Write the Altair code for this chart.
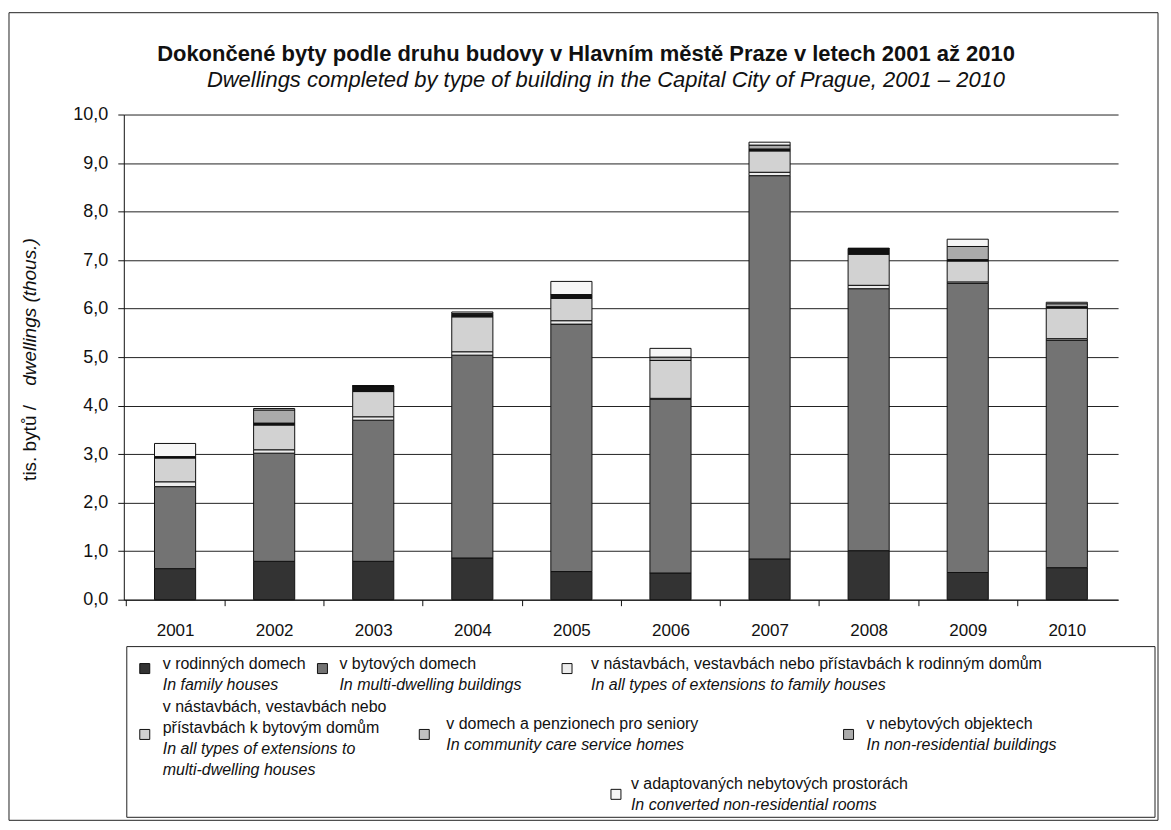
import altair as alt
import pandas as pd

# ---------------- data (thousands of dwellings) ----------------
years = ["2001", "2002", "2003", "2004", "2005", "2006", "2007", "2008", "2009", "2010"]
family = [0.64, 0.79, 0.79, 0.86, 0.58, 0.55, 0.84, 1.01, 0.56, 0.66]
multi = [1.69, 2.23, 2.91, 4.18, 5.10, 3.58, 7.90, 5.40, 5.96, 4.69]
ext_family = [0.10, 0.07, 0.07, 0.07, 0.07, 0.02, 0.07, 0.07, 0.03, 0.03]
ext_multi = [0.49, 0.51, 0.52, 0.72, 0.46, 0.78, 0.44, 0.64, 0.43, 0.63]
care = [0.03, 0.04, 0.12, 0.05, 0.08, 0.00, 0.04, 0.12, 0.03, 0.03]
nonres = [0.00, 0.27, 0.00, 0.02, 0.00, 0.07, 0.08, 0.00, 0.27, 0.06]
converted = [0.27, 0.03, 0.00, 0.03, 0.27, 0.18, 0.06, 0.00, 0.15, 0.03]

series_names = ["family", "multi", "ext_family", "ext_multi", "care", "nonres", "converted"]
series_values = [family, multi, ext_family, ext_multi, care, nonres, converted]

title_cz = "Dokončené byty podle druhu budovy v Hlavním městě Praze v letech 2001 až 2010"
title_en = "Dwellings completed by type of building in the Capital City of Prague, 2001 – 2010"
ytitle_cz = "tis. bytů / "
ytitle_en = "dwellings (thous.)"

legend_cz = [
    ["v rodinných domech"],
    ["v bytových domech"],
    ["v nástavbách, vestavbách nebo přístavbách k rodinným domům"],
    ["v nástavbách, vestavbách nebo", "přístavbách k bytovým domům"],
    ["v domech a penzionech pro seniory"],
    ["v nebytových objektech"],
    ["v adaptovaných nebytových prostorách"],
]
legend_en = [
    ["In family houses"],
    ["In multi-dwelling buildings"],
    ["In all types of extensions to family houses"],
    ["In all types of extensions to", "multi-dwelling houses"],
    ["In community care service homes"],
    ["In non-residential buildings"],
    ["In converted non-residential rooms"],
]

# ---------------- styling ----------------
FONT = "Liberation Sans"
bar_colors = ["#333333", "#737373", "#ececec", "#d2d2d2", "#111111", "#ababab", "#f6f6f6"]
icon_colors = ["#333333", "#737373", "#ececec", "#d2d2d2", "#c0c0c0", "#ababab", "#f6f6f6"]

PLOT_X, PLOT_Y = 124, 114          # page position of plot origin
W, H = 996, 486


def px(x):
    return x - PLOT_X


def py(y):
    return y - PLOT_Y


rows = []
for k, (name, vals) in enumerate(zip(series_names, series_values)):
    for yr, v in zip(years, vals):
        rows.append({"year": yr, "series": name, "order": k, "value": v})
df = pd.DataFrame(rows)
one = pd.DataFrame({"a": [0]})

step = W / 10.0

bars = alt.Chart(df).mark_bar(stroke="#111111", strokeWidth=1).encode(
    x=alt.X("year:N", sort=years,
            scale=alt.Scale(paddingInner=0.585, paddingOuter=0.31),
            axis=alt.Axis(title=None, labelAngle=0, grid=False, domainColor="#111111",
                          tickColor="#111111", tickSize=6, tickOffset=-step / 2,
                          labelOffset=step / 2, labelFont=FONT, labelFontSize=17,
                          labelColor="#111111", labelPadding=17)),
    y=alt.Y("value:Q", stack="zero",
            scale=alt.Scale(domain=[0, 10], nice=False),
            axis=alt.Axis(title=None, values=list(range(11)),
                          labelExpr="replace(format(datum.value, '.1f'), '.', ',')",
                          grid=True, gridColor="#222222", gridWidth=1,
                          domainColor="#111111", tickColor="#111111", tickSize=6,
                          labelFont=FONT, labelFontSize=18, labelColor="#111111",
                          labelPadding=10)),
    color=alt.Color("series:N", scale=alt.Scale(domain=series_names, range=bar_colors),
                    legend=None),
    order=alt.Order("order:Q", sort="ascending"),
)

layers = []

# outer frame (no fill so that the axes stay visible)
layers.append(alt.Chart(one).mark_rect(fill="white", fillOpacity=0, stroke="#222222",
                                       strokeWidth=1).encode(
    x=alt.value(px(9)), x2=alt.value(px(1160)), y=alt.value(py(12)), y2=alt.value(py(821))))
# legend box
layers.append(alt.Chart(one).mark_rect(fill="white", fillOpacity=0, stroke="#222222",
                                       strokeWidth=1).encode(
    x=alt.value(px(127)), x2=alt.value(px(1157)), y=alt.value(py(647)), y2=alt.value(py(818))))

layers.append(bars)


def text_layer(lines, x, y, italic=False, bold=False, size=16, align="left",
               baseline="middle", angle=0, line_h=21):
    kw = dict(text=lines if len(lines) > 1 else lines[0], align=align, baseline=baseline,
              font=FONT, fontSize=size, color="#111111", lineHeight=line_h)
    if italic:
        kw["fontStyle"] = "italic"
    if bold:
        kw["fontWeight"] = "bold"
    if angle:
        kw["angle"] = angle
    return alt.Chart(one).mark_text(**kw).encode(x=alt.value(px(x)), y=alt.value(py(y)))


# titles
layers.append(text_layer([title_cz], 587, 53, bold=True, size=22, align="center"))
layers.append(text_layer([title_en], 607, 79, italic=True, size=22, align="center"))
# y axis title (rotated)
layers.append(text_layer([ytitle_cz], 30, 481, size=19, angle=270))
layers.append(text_layer([ytitle_en], 30, 238, italic=True, size=19, angle=270, align="right"))

# legend layout: (icon x, icon y, text x, first line y)
legend_pos = [
    (140, 669, 163, 664),
    (318, 669, 340, 664),
    (563, 669, 592, 664),
    (140, 735, 163, 708),
    (420, 735, 447, 725),
    (845, 735, 868, 725),
    (612, 795, 632, 785),
]
for i, (ix, iy, tx, ty) in enumerate(legend_pos):
    layers.append(alt.Chart(one).mark_rect(fill=icon_colors[i], stroke="#111111",
                                           strokeWidth=1).encode(
        x=alt.value(px(ix)), x2=alt.value(px(ix + 10)),
        y=alt.value(py(iy - 5)), y2=alt.value(py(iy + 5))))
    n_cz = len(legend_cz[i])
    layers.append(text_layer(legend_cz[i], tx, ty, size=16, baseline="middle"))
    layers.append(text_layer(legend_en[i], tx, ty + 21 * n_cz, italic=True, size=16,
                             baseline="middle"))

chart = alt.layer(*layers).properties(
    width=W, height=H,
    autosize=alt.AutoSizeParams(type="none"),
    padding={"left": 116, "top": 106, "right": 45, "bottom": 223},
).configure_view(stroke=None)

chart.save("out.html", embed_options={"renderer": "svg", "actions": False})
